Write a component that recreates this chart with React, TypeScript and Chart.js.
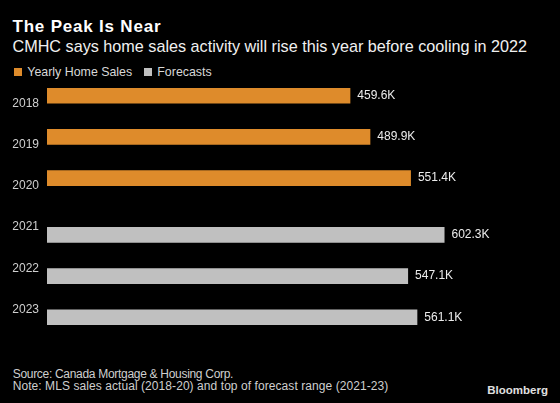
import React, { useEffect, useRef } from "react";
import { Chart, registerables } from "chart.js";

Chart.register(...registerables);

const years = ["2018", "2019", "2020", "2021", "2022", "2023"];
const yearlySales = [459.6, 489.9, 551.4, null, null, null];
const forecasts = [null, null, null, 602.3, 547.1, 561.1];
const seriesNames = ["Yearly Home Sales", "Forecasts"];
const xMax = 750;

const ORANGE = "#DE8B2B";
const GRAY = "#C0C0C0";
const FONT = "'Liberation Sans', Arial, sans-serif";

const valueLabels = {
  id: "valueLabels",
  afterDatasetsDraw(chart: any) {
    const ctx = chart.ctx;
    ctx.save();
    ctx.font = `12px ${FONT}`;
    ctx.fillStyle = "#ececec";
    ctx.textBaseline = "middle";
    ctx.textAlign = "left";
    chart.data.datasets.forEach((ds: any, i: number) => {
      const meta = chart.getDatasetMeta(i);
      meta.data.forEach((el: any, j: number) => {
        const v = ds.data[j];
        if (v == null) return;
        ctx.fillText(v.toFixed(1) + "K", el.x + 7, el.y);
      });
    });
    ctx.restore();
  },
};

export default function App() {
  const ref = useRef<HTMLCanvasElement>(null);
  useEffect(() => {
    document.body.style.margin = "0";
    document.body.style.background = "#000";
    const chart = new Chart(ref.current!, {
      type: "bar",
      data: {
        labels: years,
        datasets: [
          { label: seriesNames[0], data: yearlySales, backgroundColor: ORANGE },
          { label: seriesNames[1], data: forecasts, backgroundColor: GRAY },
        ],
      },
      options: {
        indexAxis: "y",
        animation: false,
        responsive: false,
        devicePixelRatio: 1,
        categoryPercentage: 0.76,
        barPercentage: 1,
        layout: { padding: { left: 0, right: 18, top: 0, bottom: 0 } },
        plugins: { legend: { display: false }, tooltip: { enabled: false }, title: { display: false } },
        scales: {
          x: { display: false, min: 0, max: xMax },
          y: {
            grid: { display: false, drawTicks: false },
            border: { display: false },
            ticks: { color: "#cfcfcf", font: { family: FONT, size: 12 }, padding: 8 },
            afterFit(scale: any) {
              scale.width = 47;
              scale.paddingTop = 0;
              scale.paddingBottom = 0;
            },
          },
        },
      } as any,
      plugins: [valueLabels],
    });
    return () => chart.destroy();
  }, []);

  const abs = (top: number, left: number, size: number, extra: any = {}) => ({
    position: "absolute" as const,
    top,
    left,
    fontSize: size,
    lineHeight: `${size}px`,
    whiteSpace: "nowrap" as const,
    margin: 0,
    ...extra,
  });

  return (
    <div style={{ position: "fixed", left: 0, top: 0, width: 560, height: 403, background: "#000", overflow: "hidden", fontFamily: FONT }}>
      <div style={abs(18.3, 12.5, 17, { fontWeight: "bold", color: "#ffffff", letterSpacing: "0.8px" })}>The Peak Is Near</div>
      <div style={abs(38, 12.5, 16.2, { color: "#f0f0f0" })}>
        CMHC says home sales activity will rise this year before cooling in 2022
      </div>
      <div style={{ position: "absolute", left: 14, top: 68, width: 8, height: 8, background: ORANGE }} />
      <div style={abs(66, 27.3, 12.4, { color: "#d8d8d8" })}>{seriesNames[0]}</div>
      <div style={{ position: "absolute", left: 144, top: 68, width: 8, height: 8, background: GRAY }} />
      <div style={abs(66, 157.3, 12.4, { color: "#d8d8d8" })}>{seriesNames[1]}</div>
      <canvas ref={ref} width={560} height={247} style={{ position: "absolute", left: 0, top: 83, width: 560, height: 247 }} />
      <div style={abs(368.1, 12.7, 12, { color: "#cfcfcf", letterSpacing: "-0.3px" })}>Source: Canada Mortgage &amp; Housing Corp.</div>
      <div style={abs(379.8, 12.7, 12, { color: "#cfcfcf", letterSpacing: "0.07px" })}>
        Note: MLS sales actual (2018-20) and top of forecast range (2021-23)
      </div>
      <div style={abs(384.8, 487.3, 11.5, { fontWeight: "bold", color: "#e0e0e0" })}>Bloomberg</div>
    </div>
  );
}
